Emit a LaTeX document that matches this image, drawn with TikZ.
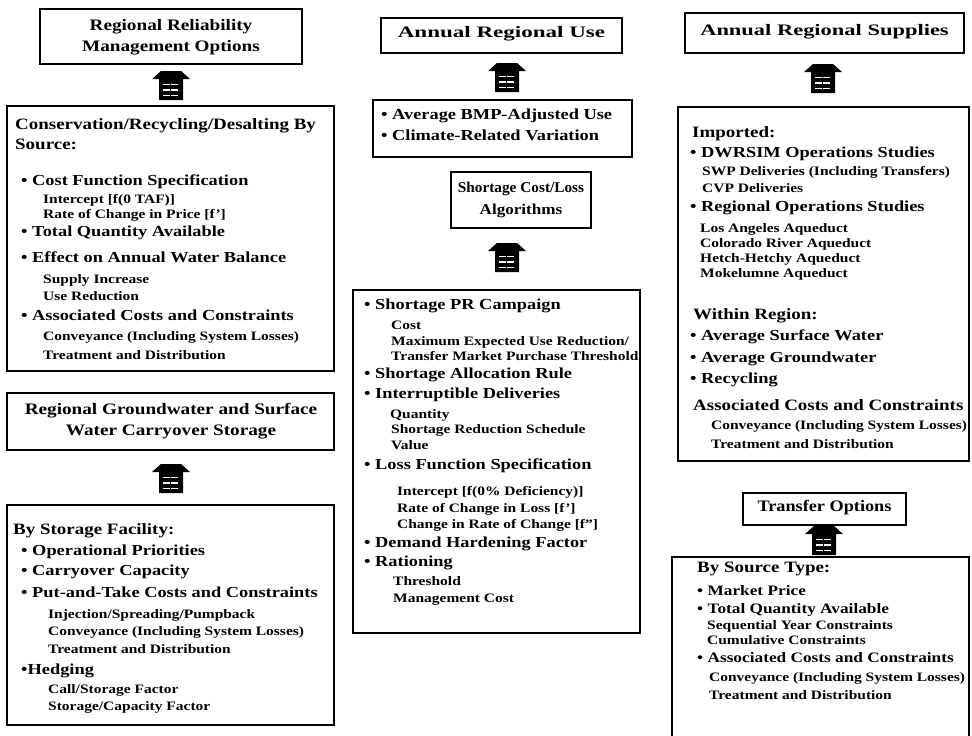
\documentclass[tikz,border=0pt]{standalone}
\usepackage{fontspec}
\setmainfont{Liberation Serif}[FakeStretch=1.2]
\usepackage{graphicx}
\newcounter{lnc}
\newcommand\Ln[4]{\stepcounter{lnc}\edef\lnname{L\arabic{lnc}}\node[#1] (\lnname) at (#2,#3) {#4};}
\newcommand\UpArr[3]{%
  \coordinate (#1) at (#2,#3);
  \begin{scope}[shift={(#1)}]
    \fill[black] (-10,0) -- (10,0) -- (19,8) -- (12,8) -- (12,29) -- (-12,29) -- (-12,8) -- (-19,8) -- cycle;
    \draw[arrline] (-8,13.5) -- (8,13.5);
    \draw[arrline] (-8,19) -- (8,19);
    \draw[arrline] (-8,24.5) -- (8,24.5);
  \end{scope}}
\newcommand\hs[2]{\scalebox{#1}[1]{#2}}
\begin{document}
\begin{tikzpicture}[x=1pt,y=-1pt,
  boxsty/.style={draw, line width=1.1pt, inner sep=0pt},
  boxline/.style={draw, line width=1.1pt},
  arrline/.style={white, line width=1.7pt, dash pattern=on 7pt off 1.2pt},
  mtxt/.style={font=\fontsize{15.3}{17}\selectfont\bfseries, inner sep=0pt, anchor=mid west},
  ltxt/.style={font=\fontsize{14.4}{17}\selectfont\bfseries, inner sep=0pt, anchor=mid west},
  htxt/.style={font=\fontsize{15.8}{17}\selectfont\bfseries, inner sep=0pt, anchor=mid west},
  stxt/.style={font=\fontsize{12.9}{15}\selectfont\bfseries, inner sep=0pt, anchor=mid west},
  ttxt/.style={font=\fontsize{16}{18}\selectfont\bfseries, inner sep=0pt, anchor=mid}]
\useasboundingbox[fill=white] (0,0) rectangle (972,736);

% ---------- boxes ----------
\node[boxsty, minimum width=262pt, minimum height=55pt] (A) at (171,36.5) {};
\node[boxsty, minimum width=327pt, minimum height=265pt] (B) at (170.5,238.5) {};
\node[boxsty, minimum width=327pt, minimum height=57pt] (C) at (170.5,421.5) {};
\node[boxsty, minimum width=327pt, minimum height=220pt] (D) at (170.5,615) {};
\node[boxsty, minimum width=241pt, minimum height=35pt] (E) at (501.5,35.5) {};
\node[boxsty, minimum width=259pt, minimum height=57pt] (F) at (502.5,128.5) {};
\node[boxsty, minimum width=140pt, minimum height=56pt] (G) at (521,200) {};
\node[boxsty, minimum width=287pt, minimum height=343pt] (H) at (496.5,461.5) {};
\node[boxsty, minimum width=279pt, minimum height=40pt] (I) at (824.5,33) {};
\node[boxsty, minimum width=291pt, minimum height=354pt] (J) at (823.5,284) {};
\node[boxsty, minimum width=163pt, minimum height=32pt] (K) at (824.5,509) {};
\coordinate (Ltl) at (672,557);
\coordinate (Ltr) at (969,557);
\draw[boxline] (672,745) -- (Ltl) -- (Ltr) -- (969,745);

% ---------- arrows ----------
\UpArr{aA}{171}{71}
\UpArr{aC}{171}{464}
\UpArr{aE}{507}{63}
\UpArr{aG}{507}{243}
\UpArr{aI}{823}{64}
\UpArr{aK}{824}{526}

% ---------- titles ----------
\Ln{ttxt}{171}{28}{Regional Reliability}
\Ln{ttxt}{171}{49}{Management Options}
\Ln{ttxt}{171}{412}{Regional Groundwater and Surface}
\Ln{ttxt}{171}{433}{Water Carryover Storage}
\Ln{ttxt}{501.5}{35}{\hs{1.2}{Annual Regional Use}}
\Ln{ttxt}{521}{190}{\fontsize{15}{17}\selectfont\hs{0.85}{Shortage Cost/Loss}}
\Ln{ttxt}{521}{212}{\fontsize{15}{17}\selectfont\hs{0.95}{Algorithms}}
\Ln{ttxt}{824.5}{33}{\hs{1.17}{Annual Regional Supplies}}
\Ln{ttxt}{824.5}{509}{\hs{0.95}{Transfer Options}}

% ---------- box B ----------
\Ln{htxt}{15}{127}{Conservation/Recycling/Desalting By}
\Ln{htxt}{15}{147}{Source:}
\Ln{mtxt}{21}{183}{• Cost Function Specification}
\Ln{stxt}{43}{201}{Intercept [f(0 TAF)]}
\Ln{stxt}{43}{216}{Rate of Change in Price [f']}
\Ln{mtxt}{21}{234}{• Total Quantity Available}
\Ln{mtxt}{21}{260}{• Effect on Annual Water Balance}
\Ln{stxt}{43}{281}{Supply Increase}
\Ln{stxt}{43}{298}{Use Reduction}
\Ln{mtxt}{21}{318}{• Associated Costs and Constraints}
\Ln{stxt}{43}{338}{Conveyance (Including System Losses)}
\Ln{stxt}{43}{357}{Treatment and Distribution}

% ---------- box D ----------
\Ln{htxt}{13}{532}{By Storage Facility:}
\Ln{mtxt}{21}{553}{• Operational Priorities}
\Ln{mtxt}{21}{573}{• Carryover Capacity}
\Ln{mtxt}{21}{595}{• Put-and-Take Costs and Constraints}
\Ln{stxt}{48}{616}{Injection/Spreading/Pumpback}
\Ln{stxt}{48}{633}{Conveyance (Including System Losses)}
\Ln{stxt}{48}{651}{Treatment and Distribution}
\Ln{mtxt}{21}{672}{•Hedging}
\Ln{stxt}{48}{691}{Call/Storage Factor}
\Ln{stxt}{48}{708}{Storage/Capacity Factor}

% ---------- box F ----------
\Ln{mtxt}{381}{117}{• Average BMP-Adjusted Use}
\Ln{mtxt}{381}{138}{• Climate-Related Variation}

% ---------- box H ----------
\Ln{mtxt}{364}{307}{• Shortage PR Campaign}
\Ln{stxt}{391}{327}{Cost}
\Ln{stxt}{391}{343}{Maximum Expected Use Reduction/}
\Ln{stxt}{391}{358}{Transfer Market Purchase Threshold}
\Ln{mtxt}{364}{376}{• Shortage Allocation Rule}
\Ln{mtxt}{364}{396}{• Interruptible Deliveries}
\Ln{stxt}{390}{416}{Quantity}
\Ln{stxt}{391}{431}{Shortage Reduction Schedule}
\Ln{stxt}{391}{447}{Value}
\Ln{mtxt}{364}{467}{• Loss Function Specification}
\Ln{stxt}{397}{493}{Intercept [f(0\% Deficiency)]}
\Ln{stxt}{397}{510}{Rate of Change in Loss [f']}
\Ln{stxt}{397}{526}{Change in Rate of Change [f'']}
\Ln{mtxt}{364}{545}{• Demand Hardening Factor}
\Ln{mtxt}{364}{564}{• Rationing}
\Ln{stxt}{393}{583}{Threshold}
\Ln{stxt}{393}{600}{Management Cost}

% ---------- box J ----------
\Ln{htxt}{692}{135}{Imported:}
\Ln{mtxt}{690}{155}{• DWRSIM Operations Studies}
\Ln{stxt}{702}{173}{SWP Deliveries (Including Transfers)}
\Ln{stxt}{702}{190}{CVP Deliveries}
\Ln{mtxt}{690}{209}{• Regional Operations Studies}
\Ln{stxt}{700}{230}{Los Angeles Aqueduct}
\Ln{stxt}{700}{245}{Colorado River Aqueduct}
\Ln{stxt}{700}{260}{Hetch-Hetchy Aqueduct}
\Ln{stxt}{700}{275}{Mokelumne Aqueduct}
\Ln{htxt}{693}{317}{Within Region:}
\Ln{mtxt}{690}{338}{• Average Surface Water}
\Ln{mtxt}{690}{360}{• Average Groundwater}
\Ln{mtxt}{690}{381}{• Recycling}
\Ln{htxt}{693}{408}{Associated Costs and Constraints}
\Ln{stxt}{711}{427}{Conveyance (Including System Losses)}
\Ln{stxt}{711}{446}{Treatment and Distribution}

% ---------- box L ----------
\Ln{htxt}{697}{570}{By Source Type:}
\Ln{ltxt}{697}{593}{• Market Price}
\Ln{ltxt}{697}{611}{• Total Quantity Available}
\Ln{stxt}{707}{627}{Sequential Year Constraints}
\Ln{stxt}{707}{642}{Cumulative Constraints}
\Ln{ltxt}{697}{660}{• Associated Costs and Constraints}
\Ln{stxt}{709}{679}{Conveyance (Including System Losses)}
\Ln{stxt}{709}{697}{Treatment and Distribution}
\end{tikzpicture}
\end{document}
